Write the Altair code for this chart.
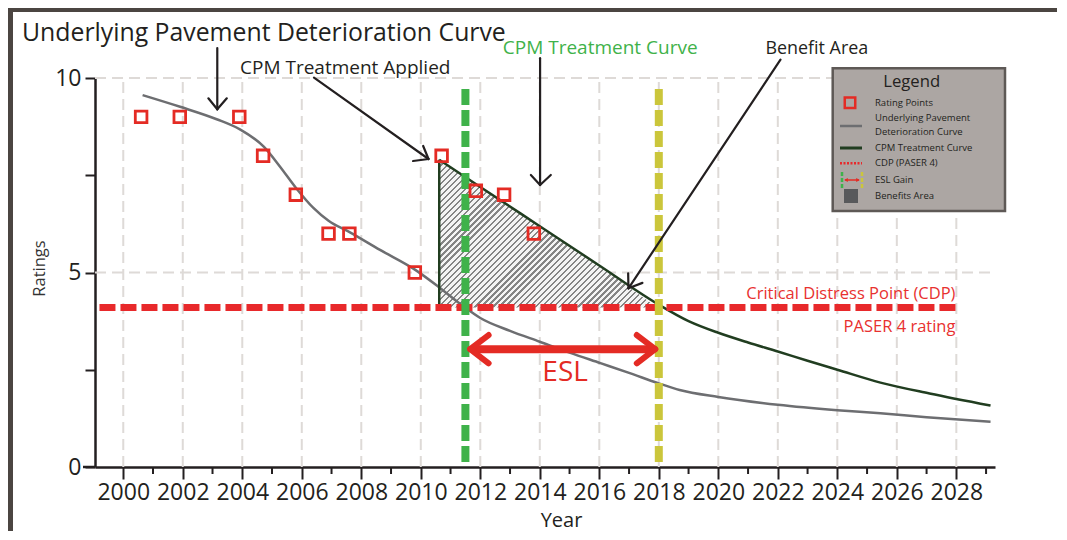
import altair as alt
import pandas as pd

# ---------------- data ----------------
point_years = [2000.6, 2001.9, 2003.9, 2004.7, 2005.8, 2006.9, 2007.6, 2009.8, 2010.7, 2011.85, 2012.8, 2013.8]
point_ratings = [9, 9, 9, 8, 7, 6, 6, 5, 8, 7.1, 7, 6]

base_years = [2000.65, 2001.91, 2003.14, 2003.92, 2004.73, 2005.27, 2005.8, 2006.39, 2006.9, 2007.62,
              2008.63, 2009.79, 2010.6, 2011.4, 2012.0, 2013.0, 2014.0, 2015.0, 2016.04, 2017.0,
              2018.0, 2018.7, 2020.0, 2022.0, 2024.0, 2025.45, 2027.0, 2029.15]
base_ratings = [9.56, 9.26, 8.94, 8.68, 8.23, 7.72, 7.18, 6.66, 6.33, 6.03,
                5.58, 5.08, 4.63, 4.15, 3.83, 3.5, 3.22, 2.94, 2.67, 2.42,
                2.15, 1.98, 1.8, 1.6, 1.46, 1.38, 1.28, 1.165]

treat_applied_year = 2010.62
cpm_years = [2010.62, 2012.0, 2014.0, 2016.0, 2017.94, 2019.0, 2020.0, 2021.0, 2022.0, 2023.0,
             2024.0, 2025.45, 2027.1, 2029.15]
cpm_ratings = [7.9, 7.2, 6.19, 5.18, 4.2, 3.75, 3.45, 3.2, 2.97, 2.73,
               2.5, 2.17, 1.89, 1.58]

benefit_years = [2010.62, 2012.0, 2014.0, 2016.0, 2017.94]
benefit_ratings = [7.9, 7.2, 6.19, 5.18, 4.1]

cdp_rating = 4.1
cdp_start, cdp_end = 1999.2, 2028.03
treat_year = 2011.5          # green marker
esl_year = 2018.0            # yellow marker
marker_top = 9.72

grid_years = list(range(2000, 2029, 2))
minor_years = list(range(2001, 2030, 2))
grid_ratings = [5, 10]
x_ticks = list(range(2000, 2029, 2))
y_ticks = [0, 2.5, 5, 7.5, 10]

X_DOMAIN = [1999.05, 2029.3]
Y_DOMAIN = [0, 10]
W, H = 900, 389
FONT = "Open Sans"
INK = "#231f20"
RED = "#e42b24"

xs = alt.Scale(domain=X_DOMAIN, nice=False, zero=False)
ys = alt.Scale(domain=Y_DOMAIN, nice=False, zero=False)

X_AXIS = alt.Axis(
    values=x_ticks, format="d", tickSize=12, tickWidth=2, tickColor=INK,
    domainColor=INK, domainWidth=2.5, labelFont=FONT, labelFontSize=23,
    labelColor=INK, labelPadding=2, labelOverlap=False, labelFlush=False,
    grid=False, title="Year", titleFont=FONT, titleFontSize=20,
    titleFontWeight="normal", titleColor=INK, titleX=466, titleY=59,
    titleAlign="center", titleBaseline="alphabetic")
Y_AXIS = alt.Axis(
    values=y_ticks, labelExpr="datum.value % 5 == 0 ? datum.label : ''",
    tickSize=10, tickWidth=2, tickColor=INK, domainColor=INK, domainWidth=2.5,
    labelFont=FONT, labelFontSize=23, labelColor=INK, labelPadding=4,
    grid=False, title="Ratings", titleFont=FONT, titleFontSize=16.5,
    titleFontWeight="normal", titleColor="#333333", titleX=-56, titleY=190,
    titleAlign="center", titleBaseline="middle", titleAngle=270)


def X(field="year"):
    return alt.X(f"{field}:Q", scale=xs, axis=X_AXIS)


def Y(field="rating"):
    return alt.Y(f"{field}:Q", scale=ys, axis=Y_AXIS)


one = pd.DataFrame({"k": [0]})

# ---------------- grid ----------------
xgrid = alt.Chart(pd.DataFrame({"year": grid_years, "lo": 0, "hi": 10})).mark_rule(
    color="#dedad7", strokeWidth=2, strokeDash=[11, 6]
).encode(x=X("year"), y=Y("lo"), y2="hi:Q")

ygrid = alt.Chart(pd.DataFrame({"rating": grid_ratings, "a": X_DOMAIN[0], "b": X_DOMAIN[1]})).mark_rule(
    color="#dedad7", strokeWidth=2, strokeDash=[11, 6]
).encode(x=X("a"), x2="b:Q", y=Y("rating"))

minor = alt.Chart(pd.DataFrame({"year": minor_years})).mark_rule(
    color=INK, strokeWidth=2
).encode(x=X("year"), y=alt.value(H), y2=alt.value(H + 7))

axis_ext = alt.Chart(one).mark_rule(color=INK, strokeWidth=2.5).encode(
    x=alt.value(-12), x2=alt.value(0), y=alt.value(H))

# ---------------- benefit area (hatched via a striped gradient) ----------------
bw = (benefit_years[-1] - benefit_years[0]) / (X_DOMAIN[1] - X_DOMAIN[0]) * W
bh = (max(benefit_ratings) - cdp_rating) / (Y_DOMAIN[1] - Y_DOMAIN[0]) * H
gx2, gy2 = 1.2, 1.2 * bh / bw
span_px = (gx2 * bw + gy2 * bh) / 2 ** 0.5
pitch = 4.3
n_per = int(span_px / pitch) + 1
stops = []
for i in range(n_per):
    a = i / n_per
    m = (i + 0.38) / n_per
    b = (i + 1) / n_per
    stops += [alt.GradientStop(color="#858585", offset=a), alt.GradientStop(color="#858585", offset=m),
              alt.GradientStop(color="#f4f4f4", offset=m), alt.GradientStop(color="#f4f4f4", offset=b)]
hatch = alt.Gradient(gradient="linear", stops=stops, x1=0, y1=0, x2=gx2, y2=gy2)

benefit = alt.Chart(pd.DataFrame({"year": benefit_years, "rating": benefit_ratings, "base": cdp_rating})).mark_area(
    color=hatch, opacity=1
).encode(x=X("year"), y=Y("rating"), y2="base:Q")

# ---------------- curves ----------------
base_line = alt.Chart(pd.DataFrame({"year": base_years, "rating": base_ratings})).mark_line(
    color="#6d6e71", strokeWidth=2.5, interpolate="monotone"
).encode(x=X("year"), y=Y("rating"))

cpm_line = alt.Chart(pd.DataFrame({"year": cpm_years, "rating": cpm_ratings})).mark_line(
    color="#213d20", strokeWidth=2.5, interpolate="monotone"
).encode(x=X("year"), y=Y("rating"))

cpm_jump = alt.Chart(pd.DataFrame({"year": [treat_applied_year], "lo": [cdp_rating], "hi": [cpm_ratings[0]]})).mark_rule(
    color="#213d20", strokeWidth=2.5
).encode(x=X("year"), y=Y("lo"), y2="hi:Q")

cdp_line = alt.Chart(pd.DataFrame({"a": [cdp_start], "b": [cdp_end], "rating": [cdp_rating]})).mark_rule(
    color="#e8292b", strokeWidth=7, strokeDash=[16, 5]
).encode(x=X("a"), x2="b:Q", y=Y("rating"))

green_v = alt.Chart(pd.DataFrame({"year": [treat_year], "top": [marker_top], "bot": [0]})).mark_rule(
    color="#3fb24a", strokeWidth=8, strokeDash=[16, 5]
).encode(x=X("year"), y=Y("top"), y2="bot:Q")

yellow_v = alt.Chart(pd.DataFrame({"year": [esl_year], "top": [marker_top], "bot": [0]})).mark_rule(
    color="#cbc63b", strokeWidth=8, strokeDash=[16, 5]
).encode(x=X("year"), y=Y("top"), y2="bot:Q")

points = alt.Chart(pd.DataFrame({"year": point_years, "rating": point_ratings})).mark_square(
    filled=False, color=RED, strokeWidth=2.8, size=135, opacity=1
).encode(x=X("year"), y=Y("rating"))

# ---------------- annotation arrows ----------------
black_segs = pd.DataFrame({
    "x":  [2003.16, 2003.16, 2003.16, 2006.41, 2010.26, 2010.26, 2014.01, 2014.01, 2014.01, 2022.09, 2016.98, 2016.98],
    "y":  [10.77, 9.195, 9.195, 10.01, 7.918, 7.918, 10.51, 7.25, 7.25, 10.47, 4.594, 4.594],
    "x2": [2003.16, 2002.86, 2003.48, 2010.26, 2009.74, 2010.08, 2014.01, 2013.70, 2014.37, 2016.98, 2017.45, 2016.97],
    "y2": [9.195, 9.478, 9.478, 7.918, 7.866, 8.252, 7.25, 7.506, 7.506, 4.594, 4.733, 4.98],
})
black_arrows = alt.Chart(black_segs).mark_rule(color=INK, strokeWidth=2.2, strokeCap="round").encode(
    x=X("x"), y=Y("y"), x2="x2:Q", y2="y2:Q")

esl_shaft = alt.Chart(pd.DataFrame({"a": [2011.75], "b": [2017.8], "rating": [3.03]})).mark_rule(
    color=RED, strokeWidth=8
).encode(x=X("a"), x2="b:Q", y=Y("rating"))

esl_heads = alt.Chart(pd.DataFrame({
    "x": [2011.66, 2011.66, 2017.88, 2017.88],
    "y": [3.03, 3.03, 3.03, 3.03],
    "x2": [2012.28, 2012.28, 2017.26, 2017.26],
    "y2": [3.393, 2.666, 3.393, 2.666],
})).mark_rule(color=RED, strokeWidth=6, strokeCap="round").encode(
    x=X("x"), y=Y("y"), x2="x2:Q", y2="y2:Q")


# ---------------- annotation texts ----------------
def label(df, **kw):
    return alt.Chart(pd.DataFrame(df)).mark_text(font=FONT, **kw).encode(
        x=X("x"), y=Y("y"), text="t:N")


txt_applied = label({"x": [2007.46], "y": [10.10], "t": ["CPM Treatment Applied"]},
                    fontSize=19, color=INK, align="center", baseline="alphabetic")
txt_curve = label({"x": [2016.03], "y": [10.62], "t": ["CPM Treatment Curve"]},
                  fontSize=19, color="#3fb24a", align="center", baseline="alphabetic")
txt_benefit = label({"x": [2023.31], "y": [10.62], "t": ["Benefit Area"]},
                    fontSize=17.9, color=INK, align="center", baseline="alphabetic")
txt_cdp = label({"x": [2027.97, 2027.97], "y": [4.45, 3.6],
                 "t": ["Critical Distress Point (CDP)", "PASER 4 rating"]},
                fontSize=16.5, color="#e8312f", align="right", baseline="middle")
txt_esl = label({"x": [2014.85], "y": [2.42], "t": ["ESL"]},
                fontSize=28, color=RED, align="center", baseline="middle")

title = alt.Chart(one).mark_text(font=FONT, fontSize=24.8, color=INK, align="left", baseline="alphabetic").encode(
    x=alt.value(-73), y=alt.value(-36.6), text=alt.value("Underlying Pavement Deterioration Curve"))

# ---------------- frame ----------------
frame_top = alt.Chart(one).mark_rect(color="#4b4541").encode(
    x=alt.value(-87), x2=alt.value(W + 64), y=alt.value(-70), y2=alt.value(-66))
frame_left = alt.Chart(one).mark_rect(color="#4b4541").encode(
    x=alt.value(-87), x2=alt.value(-82), y=alt.value(-70), y2=alt.value(H + 70))

# ---------------- legend box ----------------
LX0, LX1, LY0, LY1 = 737.7, 910, -9.7, 133
leg_layers = [
    alt.Chart(one).mark_rect(color="#aca6a3", stroke="#5e5956", strokeWidth=2.5).encode(
        x=alt.value(LX0), x2=alt.value(LX1), y=alt.value(LY0), y2=alt.value(LY1)),
    alt.Chart(one).mark_text(font=FONT, fontSize=16.7, color=INK, align="center", baseline="middle").encode(
        x=alt.value(816.7), y=alt.value(3.7), text=alt.value("Legend")),
]
legend_labels = ["Rating Points", "Underlying Pavement", "Deterioration Curve", "CPM Treatment Curve",
                 "CDP (PASER 4)", "ESL Gain", "Benefits Area"]
legend_label_y = [24.7, 40.3, 53.7, 69.7, 85.3, 102, 118]
for t, py in zip(legend_labels, legend_label_y):
    leg_layers.append(alt.Chart(one).mark_text(
        font=FONT, fontSize=9.5, color=INK, align="left", baseline="middle"
    ).encode(x=alt.value(780), y=alt.value(py), text=alt.value(t)))

leg_layers += [
    alt.Chart(one).mark_square(filled=False, color=RED, strokeWidth=2.5, size=110, opacity=1).encode(
        x=alt.value(755), y=alt.value(24.7)),
    alt.Chart(one).mark_rule(color="#6d6e71", strokeWidth=2.5).encode(
        x=alt.value(745), x2=alt.value(767), y=alt.value(48)),
    alt.Chart(one).mark_rule(color="#213d20", strokeWidth=3).encode(
        x=alt.value(745), x2=alt.value(767), y=alt.value(70)),
    alt.Chart(one).mark_rule(color="#e8292b", strokeWidth=2.5, strokeDash=[2, 1.5]).encode(
        x=alt.value(745), x2=alt.value(767), y=alt.value(85.3)),
    alt.Chart(one).mark_rule(color="#3fb24a", strokeWidth=2.5, strokeDash=[4, 2]).encode(
        x=alt.value(747), y=alt.value(94), y2=alt.value(110)),
    alt.Chart(one).mark_rule(color="#cbc63b", strokeWidth=2.5, strokeDash=[4, 2]).encode(
        x=alt.value(767), y=alt.value(94), y2=alt.value(110)),
    alt.Chart(one).mark_rule(color=RED, strokeWidth=1.5).encode(
        x=alt.value(750), x2=alt.value(764), y=alt.value(102)),
    alt.Chart(one).mark_point(shape="triangle-left", filled=True, color=RED, size=18, opacity=1).encode(
        x=alt.value(751), y=alt.value(102)),
    alt.Chart(one).mark_point(shape="triangle-right", filled=True, color=RED, size=18, opacity=1).encode(
        x=alt.value(763), y=alt.value(102)),
    alt.Chart(one).mark_square(filled=True, color="#58595b", size=196, opacity=1).encode(
        x=alt.value(756), y=alt.value(118)),
]

chart = alt.layer(
    xgrid, ygrid, minor, axis_ext, benefit, base_line, cpm_line, cpm_jump, cdp_line, green_v, yellow_v,
    points, black_arrows, esl_shaft, esl_heads,
    txt_applied, txt_curve, txt_benefit, txt_cdp, txt_esl, title, frame_top, frame_left,
    *leg_layers,
).properties(
    width=W, height=H,
    padding={"left": 87, "top": 70, "right": 62, "bottom": 64},
    autosize=alt.AutoSizeParams(type="none"),
    background="white",
).configure_view(stroke=None)

chart.save("out.html", embed_options={"renderer": "svg", "actions": False})
